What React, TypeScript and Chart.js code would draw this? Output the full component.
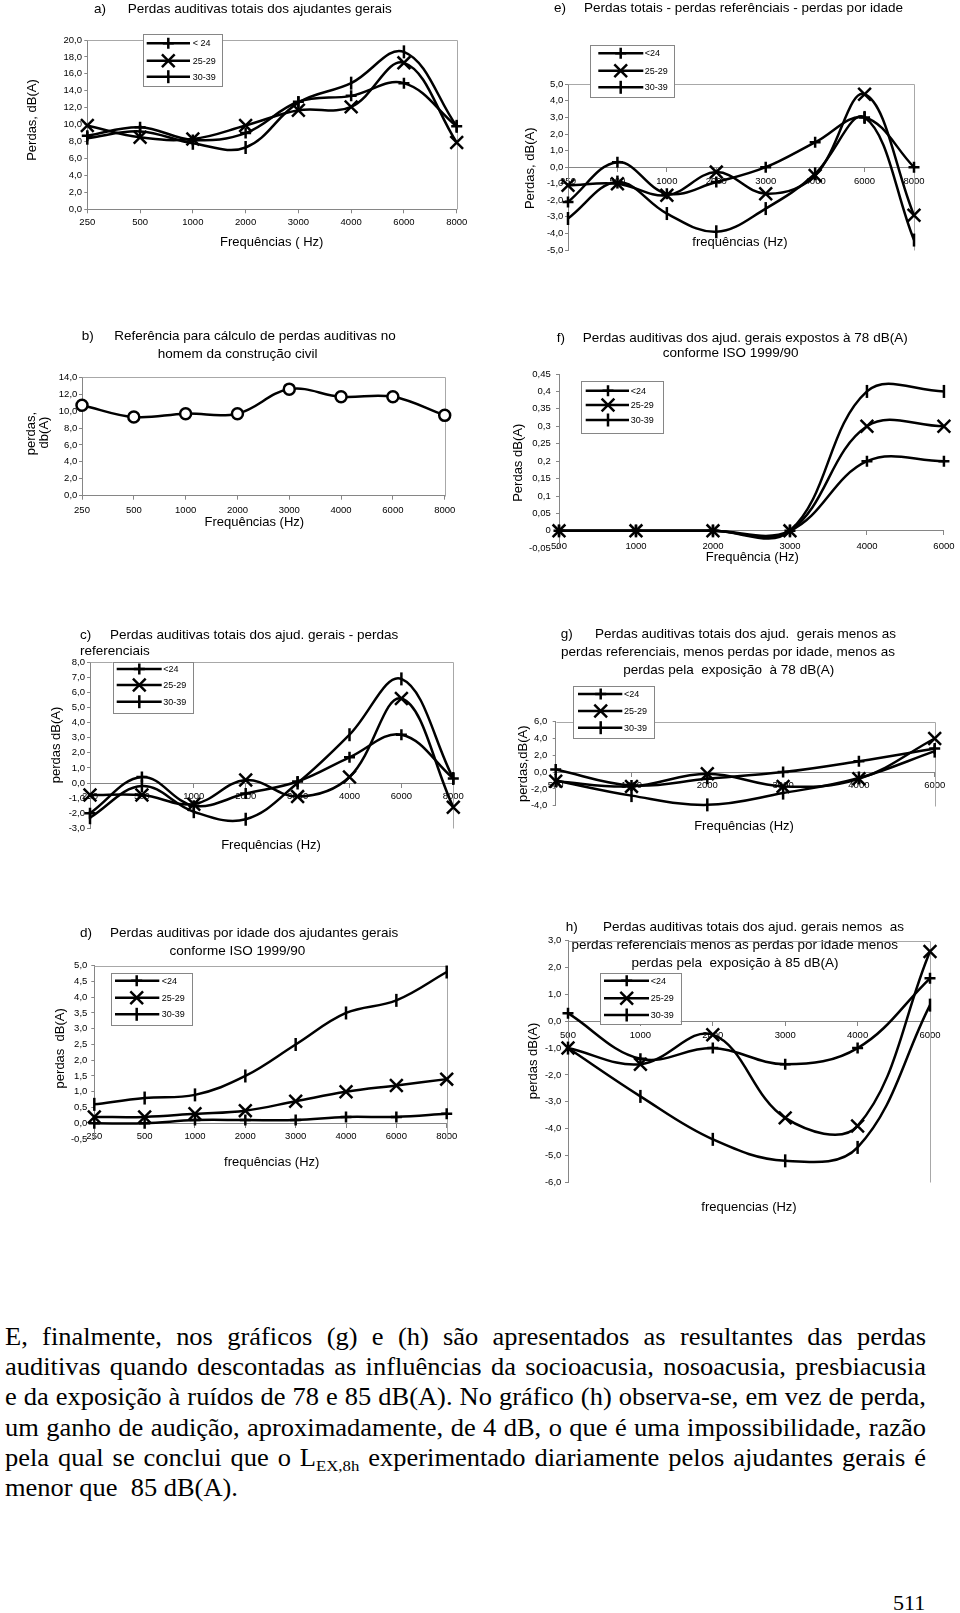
import React, { useEffect, useRef } from 'react';
import { Chart, registerables } from 'chart.js';

Chart.register(...registerables);
Chart.defaults.font.family = '"Liberation Sans", Arial, Helvetica, sans-serif';
Chart.defaults.color = '#000';

// ---------------- data ----------------
const FREQ_8 = ['250', '500', '1000', '2000', '3000', '4000', '6000', '8000'];
const FREQ_6 = ['500', '1000', '2000', '3000', '4000', '6000'];
const AGE_LABELS_A = ['< 24', '25-29', '30-39'];
const AGE_LABELS = ['<24', '25-29', '30-39'];

// a) Perdas auditivas totais
const A_LT24 = [8.7, 9.7, 8.2, 9.0, 12.7, 13.4, 14.9, 9.8];
const A_25_29 = [9.9, 8.5, 8.3, 9.9, 11.7, 12.1, 17.3, 7.9];
const A_30_39 = [8.4, 9.2, 7.8, 7.3, 12.6, 14.9, 18.6, 9.8];

// b) Referência
const B_REF = [10.7, 9.3, 9.7, 9.7, 12.6, 11.7, 11.7, 9.5];

// c) totais - referenciais
const C_LT24 = [-2.0, 0.4, -1.5, -0.7, 0.1, 1.7, 3.2, 0.3];
const C_25_29 = [-0.8, -0.8, -1.4, 0.2, -0.9, 0.4, 5.6, -1.6];
const C_30_39 = [-2.3, -0.2, -1.9, -2.4, 0.0, 3.2, 6.9, 0.3];

// d) por idade
const D_LT24 = [0.0, 0.0, 0.1, 0.1, 0.1, 0.2, 0.2, 0.3];
const D_25_29 = [0.2, 0.2, 0.3, 0.4, 0.7, 1.0, 1.2, 1.4];
const D_30_39 = [0.6, 0.8, 0.9, 1.5, 2.5, 3.5, 3.9, 4.8];

// e) totais - referenciais - idade
const E_LT24 = [-2.1, 0.3, -1.6, -0.9, 0.0, 1.5, 3.0, 0.0];
const E_25_29 = [-1.1, -1.0, -1.7, -0.3, -1.6, -0.5, 4.4, -2.9];
const E_30_39 = [-3.1, -0.9, -2.8, -3.9, -2.5, -0.4, 3.0, -4.4];

// f) exposição 78 dB(A)
const F_LT24 = [0, 0, 0, 0, 0.2, 0.2];
const F_25_29 = [0, 0, 0, 0, 0.3, 0.3];
const F_30_39 = [0, 0, 0, 0, 0.4, 0.4];

// g) menos exposição 78 dB(A)
const G_LT24 = [0.3, -1.6, -0.8, 0.0, 1.3, 2.8];
const G_25_29 = [-1.1, -1.7, -0.2, -1.7, -0.8, 4.0];
const G_30_39 = [-1.0, -2.8, -3.9, -2.5, -0.7, 2.5];

// h) menos exposição 85 dB(A)
const H_LT24 = [0.3, -1.4, -1.0, -1.6, -1.0, 1.6];
const H_25_29 = [-1.0, -1.6, -0.5, -3.6, -3.9, 2.6];
const H_30_39 = [-1.0, -2.8, -4.4, -5.2, -4.7, 0.6];

const PARAGRAPH_LINES: (string | { sub: string })[][] = [
  ['E, finalmente, nos gráficos (g) e (h) são apresentados as resultantes das perdas'],
  ['auditivas quando descontadas as influências da socioacusia, nosoacusia, presbiacusia'],
  ['e da exposição à ruídos de 78 e 85 dB(A). No gráfico (h) observa-se, em vez de perda,'],
  ['um ganho de audição, aproximadamente, de 4 dB, o que é uma impossibilidade, razão'],
  ['pela qual se conclui que o L', { sub: 'EX,8h' }, ' experimentado diariamente pelos ajudantes gerais é'],
  ['menor que \u00a085 dB(A).'],
];
const PAGE_NUMBER = '511';

// ---------------- helpers ----------------
const fmt1 = (v: number) => v.toFixed(1).replace('.', ',');
const fmtGeneral = (v: number) => String(Math.round(v * 100) / 100).replace('.', ',');

const AXIS_GRAY = '#868686';
const FRAME_GRAY = '#a8a8a8';
const TITLE = 13.5;
const AXT = 13;
const LEG = 9;
const TICK = 9.5;
const FONT = '"Liberation Sans", Arial, Helvetica, sans-serif';

const MARKERS: any = {
  plus: { pointStyle: 'cross', radius: 5.5, rotation: 0 },
  x: { pointStyle: 'crossRot', radius: 9, rotation: 0 },
  bar: { pointStyle: 'line', radius: 6.5, rotation: 90 },
  circle: { pointStyle: 'circle', radius: 5.5, rotation: 0 },
};

type TextItem = { t: string; x: number; y: number; size: number; align?: CanvasTextAlign; rot?: boolean };
type Spec = {
  id: string;
  region: [number, number, number, number];
  plot: [number, number, number, number];
  labels: string[];
  series: { name: string; data: number[]; marker: string }[];
  y: { min: number; max: number; step: number; fmt: (v: number) => string };
  xAt0: boolean;
  xPad: number;
  yPad: number;
  border: boolean;
  texts: TextItem[];
  legend?: { box: [number, number, number, number]; rows: number[]; line: [number, number]; mx: number; tx: number };
};

function three(names: string[], d1: number[], d2: number[], d3: number[]) {
  return [
    { name: names[0], data: d1, marker: 'plus' },
    { name: names[1], data: d2, marker: 'x' },
    { name: names[2], data: d3, marker: 'bar' },
  ];
}

const SPECS: Spec[] = [
  {
    id: 'a', region: [0, 0, 484, 262], plot: [87.3, 40, 456.7, 209.3], labels: FREQ_8,
    series: three(AGE_LABELS_A, A_LT24, A_25_29, A_30_39),
    y: { min: 0, max: 20, step: 2, fmt: fmt1 }, xAt0: false, xPad: 3, yPad: 2.3, border: true,
    texts: [
      { t: 'a)', x: 94, y: 9, size: TITLE },
      { t: 'Perdas auditivas totais dos ajudantes gerais', x: 127.7, y: 9, size: TITLE },
      { t: 'Frequências ( Hz)', x: 271.7, y: 242, size: AXT, align: 'center' },
      { t: 'Perdas, dB(A)', x: 32, y: 120, size: AXT, align: 'center', rot: true },
    ],
    legend: { box: [143, 34, 222, 86], rows: [43.3, 60.7, 76.7], line: [146.7, 190], mx: 168.3, tx: 192.7 },
  },
  {
    id: 'e', region: [484, 0, 476, 262], plot: [568, 84.3, 914, 250], labels: FREQ_8,
    series: three(AGE_LABELS, E_LT24, E_25_29, E_30_39),
    y: { min: -5, max: 5, step: 1, fmt: fmt1 }, xAt0: true, xPad: 4.8, yPad: 1.7, border: true,
    texts: [
      { t: 'e)', x: 554, y: 8.3, size: TITLE },
      { t: 'Perdas totais - perdas referênciais - perdas por idade', x: 584, y: 8.3, size: TITLE },
      { t: 'frequências (Hz)', x: 740, y: 242.7, size: AXT, align: 'center' },
      { t: 'Perdas, dB(A)', x: 530.7, y: 168.3, size: AXT, align: 'center', rot: true },
    ],
    legend: { box: [590, 45, 674, 96.7], rows: [53.3, 70.7, 87.3], line: [598.3, 643.3], mx: 620.7, tx: 644.7 },
  },
  {
    id: 'b', region: [0, 318, 484, 224], plot: [82, 377.3, 444.7, 495.7], labels: FREQ_8,
    series: [{ name: 'ref', data: B_REF, marker: 'circle' }],
    y: { min: 0, max: 14, step: 2, fmt: fmt1 }, xAt0: false, xPad: 5.3, yPad: 1.7, border: true,
    texts: [
      { t: 'b)', x: 81.7, y: 336.7, size: TITLE },
      { t: 'Referência para cálculo de perdas auditivas no', x: 114.3, y: 336.7, size: TITLE },
      { t: 'homem da construção civil', x: 237.7, y: 354.3, size: TITLE, align: 'center' },
      { t: 'Frequências (Hz)', x: 254.3, y: 522, size: AXT, align: 'center' },
      { t: 'perdas,', x: 31.5, y: 433.5, size: AXT, align: 'center', rot: true },
      { t: 'db(A)', x: 44.5, y: 432.5, size: AXT, align: 'center', rot: true },
    ],
  },
  {
    id: 'f', region: [484, 318, 476, 258], plot: [559, 374, 947.3, 548.3], labels: FREQ_6,
    series: three(AGE_LABELS, F_LT24, F_25_29, F_30_39),
    y: { min: -0.05, max: 0.45, step: 0.05, fmt: fmtGeneral }, xAt0: true, xPad: 5.5, yPad: 5.3, border: false,
    texts: [
      { t: 'f)', x: 556.7, y: 338.3, size: TITLE },
      { t: 'Perdas auditivas dos ajud. gerais expostos à 78 dB(A)', x: 582.7, y: 338.3, size: TITLE },
      { t: 'conforme ISO 1999/90', x: 730.7, y: 353.3, size: TITLE, align: 'center' },
      { t: 'Frequência (Hz)', x: 752.3, y: 557.5, size: AXT, align: 'center' },
      { t: 'Perdas dB(A)', x: 518, y: 462.8, size: AXT, align: 'center', rot: true },
    ],
    legend: { box: [580.7, 381, 663, 433.3], rows: [390.7, 405, 420], line: [585.7, 629], mx: 608, tx: 630.7 },
  },
  {
    id: 'c', region: [0, 618, 484, 244], plot: [90, 662.3, 453.3, 828.3], labels: FREQ_8,
    series: three(AGE_LABELS, C_LT24, C_25_29, C_30_39),
    y: { min: -3, max: 8, step: 1, fmt: fmt1 }, xAt0: true, xPad: 3.3, yPad: 2, border: true,
    texts: [
      { t: 'c)', x: 80, y: 635, size: TITLE },
      { t: 'Perdas auditivas totais dos ajud. gerais - perdas', x: 110, y: 635, size: TITLE },
      { t: 'referenciais', x: 80, y: 651.7, size: TITLE },
      { t: 'Frequências (Hz)', x: 271, y: 845.7, size: AXT, align: 'center' },
      { t: 'perdas dB(A)', x: 56, y: 745, size: AXT, align: 'center', rot: true },
    ],
    legend: { box: [112.7, 661.7, 192.7, 712.3], rows: [669, 685, 701.7], line: [116.7, 161.7], mx: 139.3, tx: 163.3 },
  },
  {
    id: 'g', region: [484, 618, 476, 230], plot: [555.7, 721.7, 934.7, 805.7], labels: FREQ_6,
    series: three(AGE_LABELS, G_LT24, G_25_29, G_30_39),
    y: { min: -4, max: 6, step: 2, fmt: fmt1 }, xAt0: true, xPad: 4, yPad: 5.4, border: true,
    texts: [
      { t: 'g)', x: 560.7, y: 634.3, size: TITLE },
      { t: 'Perdas auditivas totais dos ajud.  gerais menos as', x: 595, y: 634.3, size: TITLE },
      { t: 'perdas referenciais, menos perdas por idade, menos as', x: 728, y: 652.3, size: TITLE, align: 'center' },
      { t: 'perdas pela  exposição  à 78 dB(A)', x: 728.7, y: 670, size: TITLE, align: 'center' },
      { t: 'Frequências (Hz)', x: 744, y: 826.7, size: AXT, align: 'center' },
      { t: 'perdas,dB(A)', x: 523.3, y: 763.8, size: AXT, align: 'center', rot: true },
    ],
    legend: { box: [573.3, 685.7, 654, 737.3], rows: [694, 711, 727.7], line: [578, 622.3], mx: 600.7, tx: 624 },
  },
  {
    id: 'd', region: [0, 913, 484, 264], plot: [94.3, 965.7, 446.7, 1139], labels: FREQ_8,
    series: three(AGE_LABELS, D_LT24, D_25_29, D_30_39),
    y: { min: -0.5, max: 5, step: 0.5, fmt: fmt1 }, xAt0: true, xPad: 3.7, yPad: 4, border: true,
    texts: [
      { t: 'd)', x: 80, y: 933.3, size: TITLE },
      { t: 'Perdas auditivas por idade dos ajudantes gerais', x: 110, y: 933.3, size: TITLE },
      { t: 'conforme ISO 1999/90', x: 237.3, y: 951, size: TITLE, align: 'center' },
      { t: 'frequências (Hz)', x: 271.7, y: 1162.3, size: AXT, align: 'center' },
      { t: 'perdas  dB(A)', x: 60, y: 1048.3, size: AXT, align: 'center', rot: true },
    ],
    legend: { box: [111, 972.7, 191.7, 1025], rows: [980.7, 997.7, 1014.3], line: [115, 159.3], mx: 136.7, tx: 161.7 },
  },
  {
    id: 'h', region: [484, 913, 476, 314], plot: [568, 940.7, 930, 1182.3], labels: FREQ_6,
    series: three(AGE_LABELS, H_LT24, H_25_29, H_30_39),
    y: { min: -6, max: 3, step: 1, fmt: fmt1 }, xAt0: true, xPad: 4, yPad: 3.7, border: true,
    texts: [
      { t: 'h)', x: 565.7, y: 927.7, size: TITLE },
      { t: 'Perdas auditivas totais dos ajud. gerais nemos  as', x: 603, y: 927.7, size: TITLE },
      { t: 'perdas referenciais menos as perdas por idade menos', x: 734.8, y: 945.7, size: TITLE, align: 'center' },
      { t: 'perdas pela  exposição à 85 dB(A)', x: 735, y: 963.7, size: TITLE, align: 'center' },
      { t: 'frequencias (Hz)', x: 749, y: 1207.3, size: AXT, align: 'center' },
      { t: 'perdas dB(A)', x: 533, y: 1061, size: AXT, align: 'center', rot: true },
    ],
    legend: { box: [600, 973.3, 680.7, 1024.3], rows: [980.7, 998.3, 1015], line: [604, 649], mx: 626.7, tx: 650.7 },
  },
];

function drawMarker(ctx: CanvasRenderingContext2D, marker: string, x: number, y: number) {
  const st = MARKERS[marker];
  const r = st.radius;
  ctx.save();
  ctx.strokeStyle = '#000';
  ctx.lineWidth = 2.5;
  ctx.beginPath();
  if (marker === 'plus') {
    ctx.moveTo(x - r, y); ctx.lineTo(x + r, y);
    ctx.moveTo(x, y - r); ctx.lineTo(x, y + r);
  } else if (marker === 'x') {
    const d = r * Math.SQRT1_2;
    ctx.moveTo(x - d, y - d); ctx.lineTo(x + d, y + d);
    ctx.moveTo(x + d, y - d); ctx.lineTo(x - d, y + d);
  } else if (marker === 'bar') {
    ctx.moveTo(x, y - r); ctx.lineTo(x, y + r);
  }
  ctx.stroke();
  ctx.restore();
}

function buildChart(canvas: HTMLCanvasElement, s: Spec) {
  const [rx, ry, rw, rh] = s.region;
  const [pl, pt, pr, pb] = s.plot;
  const Y_W = 40;
  const X_H = 20;
  const padding = {
    left: pl - rx - Y_W,
    top: pt - ry,
    right: rx + rw - pr,
    bottom: ry + rh - pb - (s.xAt0 ? 0 : X_H),
  };
  const datasets = s.series.map((se) => {
    const st = MARKERS[se.marker];
    return {
      label: se.name,
      data: se.data,
      borderColor: '#000',
      borderWidth: 2.5,
      tension: 0.38,
      fill: false,
      clip: false,
      pointStyle: st.pointStyle,
      pointRadius: st.radius,
      pointHoverRadius: st.radius,
      pointRotation: st.rotation,
      pointBorderColor: '#000',
      pointBorderWidth: 2.5,
      pointBackgroundColor: se.marker === 'circle' ? '#fff' : '#000',
    };
  });

  const decor = {
    id: 'decor_' + s.id,
    beforeDatasetsDraw(chart: any) {
      if (!s.border) return;
      const { left, top, right, bottom } = chart.chartArea;
      const ctx = chart.ctx;
      ctx.save();
      ctx.strokeStyle = FRAME_GRAY;
      ctx.lineWidth = 1;
      ctx.beginPath();
      ctx.moveTo(Math.round(left) + 0.5, Math.round(top) + 0.5);
      ctx.lineTo(Math.round(right) + 0.5, Math.round(top) + 0.5);
      ctx.lineTo(Math.round(right) + 0.5, Math.round(bottom) + 0.5);
      ctx.stroke();
      ctx.restore();
    },
    afterDraw(chart: any) {
      const ctx: CanvasRenderingContext2D = chart.ctx;
      ctx.save();
      ctx.fillStyle = '#000';
      ctx.textBaseline = 'middle';
      for (const it of s.texts) {
        ctx.font = `${it.size}px ${FONT}`;
        ctx.textAlign = it.align || 'left';
        if (it.rot) {
          ctx.save();
          ctx.translate(it.x - rx, it.y - ry);
          ctx.rotate(-Math.PI / 2);
          ctx.fillText(it.t, 0, 0);
          ctx.restore();
        } else {
          ctx.fillText(it.t, it.x - rx, it.y - ry);
        }
      }
      ctx.restore();
      const lg = s.legend;
      if (lg) {
        const [bx1, by1, bx2, by2] = lg.box;
        ctx.save();
        ctx.fillStyle = '#fff';
        ctx.fillRect(bx1 - rx, by1 - ry, bx2 - bx1, by2 - by1);
        ctx.strokeStyle = AXIS_GRAY;
        ctx.lineWidth = 1;
        ctx.strokeRect(Math.round(bx1 - rx) + 0.5, Math.round(by1 - ry) + 0.5, Math.round(bx2 - bx1), Math.round(by2 - by1));
        s.series.forEach((se, i) => {
          const yy = lg.rows[i] - ry;
          ctx.strokeStyle = '#000';
          ctx.lineWidth = 2.5;
          ctx.beginPath();
          ctx.moveTo(lg.line[0] - rx, yy);
          ctx.lineTo(lg.line[1] - rx, yy);
          ctx.stroke();
          drawMarker(ctx, se.marker, lg.mx - rx, yy);
          ctx.fillStyle = '#000';
          ctx.font = `${LEG}px ${FONT}`;
          ctx.textAlign = 'left';
          ctx.textBaseline = 'middle';
          ctx.fillText(se.name, lg.tx - rx, yy + 0.5);
        });
        ctx.restore();
      }
    },
  };

  const gridOpts = (len: number) => ({
    display: true,
    drawOnChartArea: false,
    drawTicks: true,
    tickLength: len,
    color: AXIS_GRAY,
    lineWidth: 1,
  });

  return new Chart(canvas, {
    type: 'line',
    data: { labels: s.labels, datasets: datasets as any },
    options: {
      responsive: false,
      maintainAspectRatio: false,
      animation: false,
      events: [],
      layout: { padding },
      plugins: {
        legend: { display: false },
        tooltip: { enabled: false },
        title: { display: false },
      },
      scales: {
        x: {
          type: 'category',
          offset: false,
          position: s.xAt0 ? { y: 0 } : 'bottom',
          grid: gridOpts(4),
          border: { display: true, color: AXIS_GRAY, width: 1 },
          ticks: {
            autoSkip: false,
            maxRotation: 0,
            minRotation: 0,
            padding: s.xPad,
            color: '#000',
            font: { size: TICK },
          },
          afterFit: (sc: any) => {
            if (!s.xAt0) sc.height = X_H;
          },
        },
        y: {
          type: 'linear',
          min: s.y.min,
          max: s.y.max,
          grid: gridOpts(3),
          border: { display: true, color: AXIS_GRAY, width: 1 },
          ticks: {
            stepSize: s.y.step,
            padding: s.yPad,
            color: '#000',
            font: { size: TICK },
            callback: (v: any) => s.y.fmt(Number(v)),
          },
          afterFit: (sc: any) => {
            sc.width = Y_W;
          },
        },
      } as any,
    },
    plugins: [decor as any],
  });
}

function ChartBox({ spec }: { spec: Spec }) {
  const ref = useRef<HTMLCanvasElement>(null);
  useEffect(() => {
    if (!ref.current) return;
    const chart = buildChart(ref.current, spec);
    return () => chart.destroy();
  }, [spec]);
  const [x, y, w, h] = spec.region;
  return (
    <canvas
      ref={ref}
      width={w}
      height={h}
      style={{ position: 'absolute', left: x, top: y, width: w, height: h, display: 'block' }}
    />
  );
}

const TEXT_SCALE = 1.08;

export default function App() {
  const n = PARAGRAPH_LINES.length;
  return (
    <div style={{ position: 'absolute', left: 0, top: 0, width: 960, height: 1613, background: '#fff', overflow: 'hidden' }}>
      {SPECS.map((s) => (
        <ChartBox key={s.id} spec={s} />
      ))}
      <div
        style={{
          position: 'absolute',
          left: 5,
          top: 1322,
          width: 921 / TEXT_SCALE,
          transform: `scaleX(${TEXT_SCALE})`,
          transformOrigin: 'left top',
          fontFamily: '"Liberation Serif", "Times New Roman", serif',
          fontSize: 24.5,
          lineHeight: '30.2px',
          color: '#000',
        }}
      >
        {PARAGRAPH_LINES.map((line, i) => (
          <div
            key={i}
            style={{
              textAlign: i < n - 1 ? 'justify' : 'left',
              textAlignLast: i < n - 1 ? 'justify' : 'left',
              height: '30.2px',
              whiteSpace: 'nowrap',
            } as any}
          >
            {line.map((seg, j) =>
              typeof seg === 'string' ? (
                <span key={j}>{seg}</span>
              ) : (
                <sub key={j} style={{ fontSize: 15.5, verticalAlign: '-5px', lineHeight: 0 }}>
                  {seg.sub}
                </sub>
              )
            )}
          </div>
        ))}
      </div>
      <div
        style={{
          position: 'absolute',
          left: 893,
          top: 1591.6,
          fontFamily: '"Liberation Serif", "Times New Roman", serif',
          fontSize: 22,
          lineHeight: '22px',
          color: '#000',
        }}
      >
        {PAGE_NUMBER}
      </div>
    </div>
  );
}
